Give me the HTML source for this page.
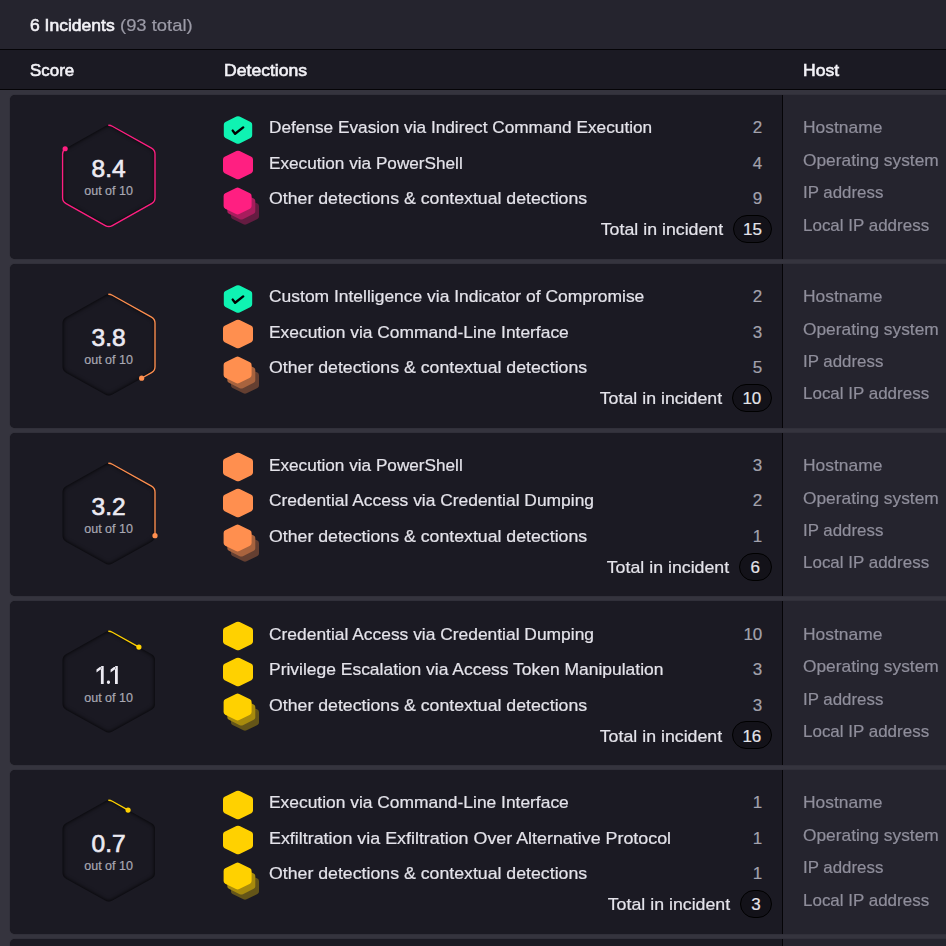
<!DOCTYPE html>
<html><head><meta charset="utf-8"><style>
html,body{margin:0;padding:0;}
body{width:946px;height:946px;overflow:hidden;position:relative;background:#35343e;font-family:"Liberation Sans", sans-serif;}
.t{position:absolute;white-space:nowrap;-webkit-text-stroke:0.2px currentColor;}
.b{-webkit-text-stroke:0.6px currentColor;}
.m{-webkit-text-stroke:0.65px currentColor;}
.card{position:absolute;left:10px;width:960px;background:#1b1a23;border-radius:5px;overflow:hidden;box-shadow:0 0 1px rgba(0,0,0,0.6);}
.host{position:absolute;left:772px;top:0;bottom:0;right:0;background:#25242e;border-left:1px solid #050407;}
.badge{position:absolute;height:26.0px;line-height:26.0px;border:1.3px solid #000;border-radius:14px;background:#131219;color:#e4e3ea;font-size:17px;text-align:center;}
svg{display:block}
</style></head><body>
<svg width="0" height="0" style="position:absolute"><defs><filter id="ins" color-interpolation-filters="sRGB" x="-20%" y="-20%" width="140%" height="140%"><feFlood flood-color="#000" flood-opacity="1"/><feComposite in2="SourceAlpha" operator="out"/><feGaussianBlur stdDeviation="2.2"/><feComposite in2="SourceAlpha" operator="in"/><feMerge><feMergeNode in="SourceGraphic"/><feMergeNode/></feMerge></filter></defs></svg>
<div style="position:absolute;left:0;top:0;width:946px;height:48.5px;background:#25242e"></div>
<div style="position:absolute;left:0;top:48.5px;width:946px;height:1.2px;background:#050407"></div>
<div style="position:absolute;left:0;top:49.7px;width:946px;height:39.3px;background:#1b1a23"></div>
<div style="position:absolute;left:0;top:89px;width:946px;height:1.2px;background:#050407"></div>
<div class="t b" style="left:30.00px;top:16.00px;font-size:17px;line-height:20px;color:#f3f2f7;transform:scaleX(1.0303);transform-origin:left center;">6 Incidents</div>
<div class="t" style="left:120.00px;top:16.00px;font-size:17px;line-height:20px;color:#9b9aa6;transform:scaleX(1.0833);transform-origin:left center;">(93 total)</div>
<div class="t b" style="left:30.00px;top:61.00px;font-size:17px;line-height:20px;color:#f3f2f7;transform:scaleX(0.9955);transform-origin:left center;">Score</div>
<div class="t b" style="left:224.00px;top:61.00px;font-size:17px;line-height:20px;color:#f3f2f7;transform:scaleX(1.0352);transform-origin:left center;">Detections</div>
<div class="t b" style="left:803.00px;top:61.00px;font-size:17px;line-height:20px;color:#f3f2f7;transform:scaleX(1.0311);transform-origin:left center;">Host</div>
<div class="card" style="top:95.00px;height:163.75px"><div class="host"></div></div>
<div style="position:absolute;left:50px;top:95.00px"><svg class="sh" width="120" height="164" viewBox="0 0 120 164">
<path d="M58.80 30.28 Q60.55 30.28 62.29 31.25 L101.51 53.15 Q105.00 55.10 105.00 59.10 L105.00 102.70 Q105.00 106.70 101.51 108.65 L62.29 130.55 Q58.80 132.50 55.31 130.55 L16.09 108.65 Q12.60 106.70 12.60 102.70 L12.60 59.10 Q12.60 55.10 16.09 53.15 L55.31 31.25 Q57.05 30.28 58.80 30.28 Z" fill="#1a1922" filter="url(#ins)"/>
<path d="M58.80 30.28 Q60.55 30.28 62.29 31.25 L101.51 53.15 Q105.00 55.10 105.00 59.10 L105.00 102.70 Q105.00 106.70 101.51 108.65 L62.29 130.55 Q58.80 132.50 55.31 130.55 L16.09 108.65 Q12.60 106.70 12.60 102.70 L12.60 59.10 Q12.60 55.10 16.09 53.15 L55.31 31.25 Q57.05 30.28 58.80 30.28 Z" fill="none" stroke="#ff1f81" stroke-width="1.35" stroke-dasharray="260.93 1000" stroke-linecap="round"/>
<circle cx="15.15" cy="53.76" r="2.6" fill="#ff1f81"/>
</svg></div>
<div class="t m" style="left:8.60px;width:200px;text-align:center;top:154.00px;font-size:24.5px;line-height:30px;color:#eceaf2;">8.4</div>
<div class="t" style="left:8.60px;width:200px;text-align:center;top:184.00px;font-size:12.5px;line-height:14px;color:#a9a8b3;">out of 10</div>
<div style="position:absolute;left:218px;top:109.90px"><svg width="40" height="40" viewBox="0 0 40 40"><path d="M20.00 6.20 Q20.80 6.20 21.61 6.60 L32.59 12.10 Q34.20 12.90 34.20 14.70 L34.20 25.30 Q34.20 27.10 32.59 27.90 L21.61 33.40 Q20.00 34.20 18.39 33.40 L7.41 27.90 Q5.80 27.10 5.80 25.30 L5.80 14.70 Q5.80 12.90 7.41 12.10 L18.39 6.60 Q19.20 6.20 20.00 6.20 Z" fill="#0ff3b2"/><path d="M14.7 20.6 L17.1 23.8 L25.2 17.4" fill="none" stroke="#000" stroke-width="2.4" stroke-linecap="round" stroke-linejoin="round"/></svg></div>
<div class="t" style="left:269.00px;top:118.00px;font-size:17px;line-height:20px;color:#e4e3ea;transform:scaleX(1.0138);transform-origin:left center;">Defense Evasion via Indirect Command Execution</div>
<div class="t" style="right:183.70px;top:118.00px;font-size:17px;line-height:20px;color:#a3a2ad;">2</div>
<div style="position:absolute;left:218px;top:145.40px"><svg width="40" height="40" viewBox="0 0 40 40"><path d="M20.00 5.70 Q20.81 5.70 21.62 6.09 L33.38 11.86 Q35.00 12.65 35.00 14.45 L35.00 25.55 Q35.00 27.35 33.38 28.14 L21.62 33.91 Q20.00 34.70 18.38 33.91 L6.62 28.14 Q5.00 27.35 5.00 25.55 L5.00 14.45 Q5.00 12.65 6.62 11.86 L18.38 6.09 Q19.19 5.70 20.00 5.70 Z" fill="#ff1f81"/></svg></div>
<div class="t" style="left:269.00px;top:154.00px;font-size:17px;line-height:20px;color:#e4e3ea;transform:scaleX(1.0100);transform-origin:left center;">Execution via PowerShell</div>
<div class="t" style="right:183.70px;top:154.00px;font-size:17px;line-height:20px;color:#a3a2ad;">4</div>
<div style="position:absolute;left:218px;top:180.90px"><svg width="40" height="40" viewBox="0 0 40 40" style="overflow:visible"><path d="M27.00 16.85 Q27.81 16.85 28.61 17.25 L39.39 22.58 Q41.00 23.38 41.00 25.18 L41.00 35.43 Q41.00 37.23 39.39 38.02 L28.61 43.35 Q27.00 44.15 25.39 43.35 L14.61 38.02 Q13.00 37.23 13.00 35.43 L13.00 25.18 Q13.00 23.38 14.61 22.58 L25.39 17.25 Q26.19 16.85 27.00 16.85 Z" fill="#641c41"/><path d="M23.30 11.70 Q24.11 11.70 24.91 12.10 L35.69 17.43 Q37.30 18.22 37.30 20.02 L37.30 30.27 Q37.30 32.07 35.69 32.87 L24.91 38.20 Q23.30 39.00 21.69 38.20 L10.91 32.87 Q9.30 32.07 9.30 30.27 L9.30 20.02 Q9.30 18.22 10.91 17.43 L21.69 12.10 Q22.49 11.70 23.30 11.70 Z" fill="#a81d5d"/><path d="M19.60 6.55 Q20.41 6.55 21.21 6.95 L31.99 12.28 Q33.60 13.07 33.60 14.88 L33.60 25.12 Q33.60 26.93 31.99 27.72 L21.21 33.05 Q19.60 33.85 17.99 33.05 L7.21 27.72 Q5.60 26.93 5.60 25.12 L5.60 14.88 Q5.60 13.07 7.21 12.28 L17.99 6.95 Q18.79 6.55 19.60 6.55 Z" fill="#ff1f81"/></svg></div>
<div class="t" style="left:269.00px;top:189.00px;font-size:17px;line-height:20px;color:#e4e3ea;transform:scaleX(1.0423);transform-origin:left center;">Other detections &amp; contextual detections</div>
<div class="t" style="right:183.70px;top:189.00px;font-size:17px;line-height:20px;color:#a3a2ad;">9</div>
<div class="badge" style="top:215.00px;left:733.4px;width:36.30px"></div>
<div class="t" style="left:652.55px;width:200px;text-align:center;top:220.00px;font-size:17px;line-height:20px;color:#e4e3ea;">15</div>
<div class="t" style="right:222.60px;top:220.00px;font-size:17px;line-height:20px;color:#e4e3ea;transform:scaleX(1.0450);transform-origin:right center;">Total in incident</div>
<div class="t" style="left:803.00px;top:118.00px;font-size:17px;line-height:20px;color:#8f8e9b;transform:scaleX(1.0237);transform-origin:left center;">Hostname</div>
<div class="t" style="left:803.00px;top:151.00px;font-size:17px;line-height:20px;color:#8f8e9b;transform:scaleX(1.0188);transform-origin:left center;">Operating system</div>
<div class="t" style="left:803.00px;top:183.00px;font-size:17px;line-height:20px;color:#8f8e9b;transform:scaleX(0.9925);transform-origin:left center;">IP address</div>
<div class="t" style="left:803.00px;top:216.00px;font-size:17px;line-height:20px;color:#8f8e9b;transform:scaleX(0.9984);transform-origin:left center;">Local IP address</div>
<div class="card" style="top:263.75px;height:163.75px"><div class="host"></div></div>
<div style="position:absolute;left:50px;top:263.75px"><svg class="sh" width="120" height="164" viewBox="0 0 120 164">
<path d="M58.80 30.28 Q60.55 30.28 62.29 31.25 L101.51 53.15 Q105.00 55.10 105.00 59.10 L105.00 102.70 Q105.00 106.70 101.51 108.65 L62.29 130.55 Q58.80 132.50 55.31 130.55 L16.09 108.65 Q12.60 106.70 12.60 102.70 L12.60 59.10 Q12.60 55.10 16.09 53.15 L55.31 31.25 Q57.05 30.28 58.80 30.28 Z" fill="#1a1922" filter="url(#ins)"/>
<path d="M58.80 30.28 Q60.55 30.28 62.29 31.25 L101.51 53.15 Q105.00 55.10 105.00 59.10 L105.00 102.70 Q105.00 106.70 101.51 108.65 L62.29 130.55 Q58.80 132.50 55.31 130.55 L16.09 108.65 Q12.60 106.70 12.60 102.70 L12.60 59.10 Q12.60 55.10 16.09 53.15 L55.31 31.25 Q57.05 30.28 58.80 30.28 Z" fill="none" stroke="#ff8f4f" stroke-width="1.35" stroke-dasharray="118.04 1000" stroke-linecap="round"/>
<circle cx="91.64" cy="114.16" r="2.6" fill="#ff8f4f"/>
</svg></div>
<div class="t m" style="left:8.60px;width:200px;text-align:center;top:323.00px;font-size:24.5px;line-height:30px;color:#eceaf2;">3.8</div>
<div class="t" style="left:8.60px;width:200px;text-align:center;top:353.00px;font-size:12.5px;line-height:14px;color:#a9a8b3;">out of 10</div>
<div style="position:absolute;left:218px;top:278.65px"><svg width="40" height="40" viewBox="0 0 40 40"><path d="M20.00 6.20 Q20.80 6.20 21.61 6.60 L32.59 12.10 Q34.20 12.90 34.20 14.70 L34.20 25.30 Q34.20 27.10 32.59 27.90 L21.61 33.40 Q20.00 34.20 18.39 33.40 L7.41 27.90 Q5.80 27.10 5.80 25.30 L5.80 14.70 Q5.80 12.90 7.41 12.10 L18.39 6.60 Q19.20 6.20 20.00 6.20 Z" fill="#0ff3b2"/><path d="M14.7 20.6 L17.1 23.8 L25.2 17.4" fill="none" stroke="#000" stroke-width="2.4" stroke-linecap="round" stroke-linejoin="round"/></svg></div>
<div class="t" style="left:269.00px;top:287.00px;font-size:17px;line-height:20px;color:#e4e3ea;transform:scaleX(1.0264);transform-origin:left center;">Custom Intelligence via Indicator of Compromise</div>
<div class="t" style="right:183.70px;top:287.00px;font-size:17px;line-height:20px;color:#a3a2ad;">2</div>
<div style="position:absolute;left:218px;top:314.15px"><svg width="40" height="40" viewBox="0 0 40 40"><path d="M20.00 5.70 Q20.81 5.70 21.62 6.09 L33.38 11.86 Q35.00 12.65 35.00 14.45 L35.00 25.55 Q35.00 27.35 33.38 28.14 L21.62 33.91 Q20.00 34.70 18.38 33.91 L6.62 28.14 Q5.00 27.35 5.00 25.55 L5.00 14.45 Q5.00 12.65 6.62 11.86 L18.38 6.09 Q19.19 5.70 20.00 5.70 Z" fill="#ff8f4f"/></svg></div>
<div class="t" style="left:269.00px;top:323.00px;font-size:17px;line-height:20px;color:#e4e3ea;transform:scaleX(1.0233);transform-origin:left center;">Execution via Command-Line Interface</div>
<div class="t" style="right:183.70px;top:323.00px;font-size:17px;line-height:20px;color:#a3a2ad;">3</div>
<div style="position:absolute;left:218px;top:349.65px"><svg width="40" height="40" viewBox="0 0 40 40" style="overflow:visible"><path d="M27.00 16.85 Q27.81 16.85 28.61 17.25 L39.39 22.58 Q41.00 23.38 41.00 25.18 L41.00 35.43 Q41.00 37.23 39.39 38.02 L28.61 43.35 Q27.00 44.15 25.39 43.35 L14.61 38.02 Q13.00 37.23 13.00 35.43 L13.00 25.18 Q13.00 23.38 14.61 22.58 L25.39 17.25 Q26.19 16.85 27.00 16.85 Z" fill="#643f31"/><path d="M23.30 11.70 Q24.11 11.70 24.91 12.10 L35.69 17.43 Q37.30 18.22 37.30 20.02 L37.30 30.27 Q37.30 32.07 35.69 32.87 L24.91 38.20 Q23.30 39.00 21.69 38.20 L10.91 32.87 Q9.30 32.07 9.30 30.27 L9.30 20.02 Q9.30 18.22 10.91 17.43 L21.69 12.10 Q22.49 11.70 23.30 11.70 Z" fill="#a8633e"/><path d="M19.60 6.55 Q20.41 6.55 21.21 6.95 L31.99 12.28 Q33.60 13.07 33.60 14.88 L33.60 25.12 Q33.60 26.93 31.99 27.72 L21.21 33.05 Q19.60 33.85 17.99 33.05 L7.21 27.72 Q5.60 26.93 5.60 25.12 L5.60 14.88 Q5.60 13.07 7.21 12.28 L17.99 6.95 Q18.79 6.55 19.60 6.55 Z" fill="#ff8f4f"/></svg></div>
<div class="t" style="left:269.00px;top:358.00px;font-size:17px;line-height:20px;color:#e4e3ea;transform:scaleX(1.0423);transform-origin:left center;">Other detections &amp; contextual detections</div>
<div class="t" style="right:183.70px;top:358.00px;font-size:17px;line-height:20px;color:#a3a2ad;">5</div>
<div class="badge" style="top:383.75px;left:732.0px;width:37.70px"></div>
<div class="t" style="left:651.85px;width:200px;text-align:center;top:389.00px;font-size:17px;line-height:20px;color:#e4e3ea;">10</div>
<div class="t" style="right:224.00px;top:389.00px;font-size:17px;line-height:20px;color:#e4e3ea;transform:scaleX(1.0450);transform-origin:right center;">Total in incident</div>
<div class="t" style="left:803.00px;top:287.00px;font-size:17px;line-height:20px;color:#8f8e9b;transform:scaleX(1.0237);transform-origin:left center;">Hostname</div>
<div class="t" style="left:803.00px;top:320.00px;font-size:17px;line-height:20px;color:#8f8e9b;transform:scaleX(1.0188);transform-origin:left center;">Operating system</div>
<div class="t" style="left:803.00px;top:352.00px;font-size:17px;line-height:20px;color:#8f8e9b;transform:scaleX(0.9925);transform-origin:left center;">IP address</div>
<div class="t" style="left:803.00px;top:384.00px;font-size:17px;line-height:20px;color:#8f8e9b;transform:scaleX(0.9984);transform-origin:left center;">Local IP address</div>
<div class="card" style="top:432.50px;height:163.75px"><div class="host"></div></div>
<div style="position:absolute;left:50px;top:432.50px"><svg class="sh" width="120" height="164" viewBox="0 0 120 164">
<path d="M58.80 30.28 Q60.55 30.28 62.29 31.25 L101.51 53.15 Q105.00 55.10 105.00 59.10 L105.00 102.70 Q105.00 106.70 101.51 108.65 L62.29 130.55 Q58.80 132.50 55.31 130.55 L16.09 108.65 Q12.60 106.70 12.60 102.70 L12.60 59.10 Q12.60 55.10 16.09 53.15 L55.31 31.25 Q57.05 30.28 58.80 30.28 Z" fill="#1a1922" filter="url(#ins)"/>
<path d="M58.80 30.28 Q60.55 30.28 62.29 31.25 L101.51 53.15 Q105.00 55.10 105.00 59.10 L105.00 102.70 Q105.00 106.70 101.51 108.65 L62.29 130.55 Q58.80 132.50 55.31 130.55 L16.09 108.65 Q12.60 106.70 12.60 102.70 L12.60 59.10 Q12.60 55.10 16.09 53.15 L55.31 31.25 Q57.05 30.28 58.80 30.28 Z" fill="none" stroke="#ff8f4f" stroke-width="1.35" stroke-dasharray="99.40 1000" stroke-linecap="round"/>
<circle cx="105.00" cy="102.64" r="2.6" fill="#ff8f4f"/>
</svg></div>
<div class="t m" style="left:8.60px;width:200px;text-align:center;top:492.00px;font-size:24.5px;line-height:30px;color:#eceaf2;">3.2</div>
<div class="t" style="left:8.60px;width:200px;text-align:center;top:522.00px;font-size:12.5px;line-height:14px;color:#a9a8b3;">out of 10</div>
<div style="position:absolute;left:218px;top:447.40px"><svg width="40" height="40" viewBox="0 0 40 40"><path d="M20.00 5.70 Q20.81 5.70 21.62 6.09 L33.38 11.86 Q35.00 12.65 35.00 14.45 L35.00 25.55 Q35.00 27.35 33.38 28.14 L21.62 33.91 Q20.00 34.70 18.38 33.91 L6.62 28.14 Q5.00 27.35 5.00 25.55 L5.00 14.45 Q5.00 12.65 6.62 11.86 L18.38 6.09 Q19.19 5.70 20.00 5.70 Z" fill="#ff8f4f"/></svg></div>
<div class="t" style="left:269.00px;top:456.00px;font-size:17px;line-height:20px;color:#e4e3ea;transform:scaleX(1.0100);transform-origin:left center;">Execution via PowerShell</div>
<div class="t" style="right:183.70px;top:456.00px;font-size:17px;line-height:20px;color:#a3a2ad;">3</div>
<div style="position:absolute;left:218px;top:482.90px"><svg width="40" height="40" viewBox="0 0 40 40"><path d="M20.00 5.70 Q20.81 5.70 21.62 6.09 L33.38 11.86 Q35.00 12.65 35.00 14.45 L35.00 25.55 Q35.00 27.35 33.38 28.14 L21.62 33.91 Q20.00 34.70 18.38 33.91 L6.62 28.14 Q5.00 27.35 5.00 25.55 L5.00 14.45 Q5.00 12.65 6.62 11.86 L18.38 6.09 Q19.19 5.70 20.00 5.70 Z" fill="#ff8f4f"/></svg></div>
<div class="t" style="left:269.00px;top:491.00px;font-size:17px;line-height:20px;color:#e4e3ea;transform:scaleX(1.0237);transform-origin:left center;">Credential Access via Credential Dumping</div>
<div class="t" style="right:183.70px;top:491.00px;font-size:17px;line-height:20px;color:#a3a2ad;">2</div>
<div style="position:absolute;left:218px;top:518.40px"><svg width="40" height="40" viewBox="0 0 40 40" style="overflow:visible"><path d="M27.00 16.85 Q27.81 16.85 28.61 17.25 L39.39 22.58 Q41.00 23.38 41.00 25.18 L41.00 35.43 Q41.00 37.23 39.39 38.02 L28.61 43.35 Q27.00 44.15 25.39 43.35 L14.61 38.02 Q13.00 37.23 13.00 35.43 L13.00 25.18 Q13.00 23.38 14.61 22.58 L25.39 17.25 Q26.19 16.85 27.00 16.85 Z" fill="#643f31"/><path d="M23.30 11.70 Q24.11 11.70 24.91 12.10 L35.69 17.43 Q37.30 18.22 37.30 20.02 L37.30 30.27 Q37.30 32.07 35.69 32.87 L24.91 38.20 Q23.30 39.00 21.69 38.20 L10.91 32.87 Q9.30 32.07 9.30 30.27 L9.30 20.02 Q9.30 18.22 10.91 17.43 L21.69 12.10 Q22.49 11.70 23.30 11.70 Z" fill="#a8633e"/><path d="M19.60 6.55 Q20.41 6.55 21.21 6.95 L31.99 12.28 Q33.60 13.07 33.60 14.88 L33.60 25.12 Q33.60 26.93 31.99 27.72 L21.21 33.05 Q19.60 33.85 17.99 33.05 L7.21 27.72 Q5.60 26.93 5.60 25.12 L5.60 14.88 Q5.60 13.07 7.21 12.28 L17.99 6.95 Q18.79 6.55 19.60 6.55 Z" fill="#ff8f4f"/></svg></div>
<div class="t" style="left:269.00px;top:527.00px;font-size:17px;line-height:20px;color:#e4e3ea;transform:scaleX(1.0423);transform-origin:left center;">Other detections &amp; contextual detections</div>
<div class="t" style="right:183.70px;top:527.00px;font-size:17px;line-height:20px;color:#a3a2ad;">1</div>
<div class="badge" style="top:552.50px;left:739.0px;width:30.70px"></div>
<div class="t" style="left:655.35px;width:200px;text-align:center;top:558.00px;font-size:17px;line-height:20px;color:#e4e3ea;">6</div>
<div class="t" style="right:217.00px;top:558.00px;font-size:17px;line-height:20px;color:#e4e3ea;transform:scaleX(1.0450);transform-origin:right center;">Total in incident</div>
<div class="t" style="left:803.00px;top:456.00px;font-size:17px;line-height:20px;color:#8f8e9b;transform:scaleX(1.0237);transform-origin:left center;">Hostname</div>
<div class="t" style="left:803.00px;top:489.00px;font-size:17px;line-height:20px;color:#8f8e9b;transform:scaleX(1.0188);transform-origin:left center;">Operating system</div>
<div class="t" style="left:803.00px;top:521.00px;font-size:17px;line-height:20px;color:#8f8e9b;transform:scaleX(0.9925);transform-origin:left center;">IP address</div>
<div class="t" style="left:803.00px;top:553.00px;font-size:17px;line-height:20px;color:#8f8e9b;transform:scaleX(0.9984);transform-origin:left center;">Local IP address</div>
<div class="card" style="top:601.25px;height:163.75px"><div class="host"></div></div>
<div style="position:absolute;left:50px;top:601.25px"><svg class="sh" width="120" height="164" viewBox="0 0 120 164">
<path d="M58.80 30.28 Q60.55 30.28 62.29 31.25 L101.51 53.15 Q105.00 55.10 105.00 59.10 L105.00 102.70 Q105.00 106.70 101.51 108.65 L62.29 130.55 Q58.80 132.50 55.31 130.55 L16.09 108.65 Q12.60 106.70 12.60 102.70 L12.60 59.10 Q12.60 55.10 16.09 53.15 L55.31 31.25 Q57.05 30.28 58.80 30.28 Z" fill="#1a1922" filter="url(#ins)"/>
<path d="M58.80 30.28 Q60.55 30.28 62.29 31.25 L101.51 53.15 Q105.00 55.10 105.00 59.10 L105.00 102.70 Q105.00 106.70 101.51 108.65 L62.29 130.55 Q58.80 132.50 55.31 130.55 L16.09 108.65 Q12.60 106.70 12.60 102.70 L12.60 59.10 Q12.60 55.10 16.09 53.15 L55.31 31.25 Q57.05 30.28 58.80 30.28 Z" fill="none" stroke="#ffd100" stroke-width="1.35" stroke-dasharray="34.17 1000" stroke-linecap="round"/>
<circle cx="88.92" cy="46.12" r="2.6" fill="#ffd100"/>
</svg></div>
<svg style="position:absolute;left:0;top:0" width="200" height="946" viewBox="0 0 200 946"><path d="M100.90 666 h2.8 v18 h-2.8 z M101.10 666 l-4.6 3.4 l0 3.0 l4.8 -3.5 z" fill="#eceaf2"/><rect x="106.9" y="680.6" width="3.1" height="3.4" rx="1.4" fill="#eceaf2"/><path d="M115.00 666 h2.8 v18 h-2.8 z M115.20 666 l-4.6 3.4 l0 3.0 l4.8 -3.5 z" fill="#eceaf2"/></svg>
<div class="t" style="left:8.60px;width:200px;text-align:center;top:691.00px;font-size:12.5px;line-height:14px;color:#a9a8b3;">out of 10</div>
<div style="position:absolute;left:218px;top:616.15px"><svg width="40" height="40" viewBox="0 0 40 40"><path d="M20.00 5.70 Q20.81 5.70 21.62 6.09 L33.38 11.86 Q35.00 12.65 35.00 14.45 L35.00 25.55 Q35.00 27.35 33.38 28.14 L21.62 33.91 Q20.00 34.70 18.38 33.91 L6.62 28.14 Q5.00 27.35 5.00 25.55 L5.00 14.45 Q5.00 12.65 6.62 11.86 L18.38 6.09 Q19.19 5.70 20.00 5.70 Z" fill="#ffd100"/></svg></div>
<div class="t" style="left:269.00px;top:625.00px;font-size:17px;line-height:20px;color:#e4e3ea;transform:scaleX(1.0237);transform-origin:left center;">Credential Access via Credential Dumping</div>
<div class="t" style="right:183.70px;top:625.00px;font-size:17px;line-height:20px;color:#a3a2ad;">10</div>
<div style="position:absolute;left:218px;top:651.65px"><svg width="40" height="40" viewBox="0 0 40 40"><path d="M20.00 5.70 Q20.81 5.70 21.62 6.09 L33.38 11.86 Q35.00 12.65 35.00 14.45 L35.00 25.55 Q35.00 27.35 33.38 28.14 L21.62 33.91 Q20.00 34.70 18.38 33.91 L6.62 28.14 Q5.00 27.35 5.00 25.55 L5.00 14.45 Q5.00 12.65 6.62 11.86 L18.38 6.09 Q19.19 5.70 20.00 5.70 Z" fill="#ffd100"/></svg></div>
<div class="t" style="left:269.00px;top:660.00px;font-size:17px;line-height:20px;color:#e4e3ea;transform:scaleX(1.0264);transform-origin:left center;">Privilege Escalation via Access Token Manipulation</div>
<div class="t" style="right:183.70px;top:660.00px;font-size:17px;line-height:20px;color:#a3a2ad;">3</div>
<div style="position:absolute;left:218px;top:687.15px"><svg width="40" height="40" viewBox="0 0 40 40" style="overflow:visible"><path d="M27.00 16.85 Q27.81 16.85 28.61 17.25 L39.39 22.58 Q41.00 23.38 41.00 25.18 L41.00 35.43 Q41.00 37.23 39.39 38.02 L28.61 43.35 Q27.00 44.15 25.39 43.35 L14.61 38.02 Q13.00 37.23 13.00 35.43 L13.00 25.18 Q13.00 23.38 14.61 22.58 L25.39 17.25 Q26.19 16.85 27.00 16.85 Z" fill="#645518"/><path d="M23.30 11.70 Q24.11 11.70 24.91 12.10 L35.69 17.43 Q37.30 18.22 37.30 20.02 L37.30 30.27 Q37.30 32.07 35.69 32.87 L24.91 38.20 Q23.30 39.00 21.69 38.20 L10.91 32.87 Q9.30 32.07 9.30 30.27 L9.30 20.02 Q9.30 18.22 10.91 17.43 L21.69 12.10 Q22.49 11.70 23.30 11.70 Z" fill="#a88b0d"/><path d="M19.60 6.55 Q20.41 6.55 21.21 6.95 L31.99 12.28 Q33.60 13.07 33.60 14.88 L33.60 25.12 Q33.60 26.93 31.99 27.72 L21.21 33.05 Q19.60 33.85 17.99 33.05 L7.21 27.72 Q5.60 26.93 5.60 25.12 L5.60 14.88 Q5.60 13.07 7.21 12.28 L17.99 6.95 Q18.79 6.55 19.60 6.55 Z" fill="#ffd100"/></svg></div>
<div class="t" style="left:269.00px;top:696.00px;font-size:17px;line-height:20px;color:#e4e3ea;transform:scaleX(1.0423);transform-origin:left center;">Other detections &amp; contextual detections</div>
<div class="t" style="right:183.70px;top:696.00px;font-size:17px;line-height:20px;color:#a3a2ad;">3</div>
<div class="badge" style="top:721.25px;left:732.0px;width:37.70px"></div>
<div class="t" style="left:651.85px;width:200px;text-align:center;top:727.00px;font-size:17px;line-height:20px;color:#e4e3ea;">16</div>
<div class="t" style="right:224.00px;top:727.00px;font-size:17px;line-height:20px;color:#e4e3ea;transform:scaleX(1.0450);transform-origin:right center;">Total in incident</div>
<div class="t" style="left:803.00px;top:625.00px;font-size:17px;line-height:20px;color:#8f8e9b;transform:scaleX(1.0237);transform-origin:left center;">Hostname</div>
<div class="t" style="left:803.00px;top:657.00px;font-size:17px;line-height:20px;color:#8f8e9b;transform:scaleX(1.0188);transform-origin:left center;">Operating system</div>
<div class="t" style="left:803.00px;top:690.00px;font-size:17px;line-height:20px;color:#8f8e9b;transform:scaleX(0.9925);transform-origin:left center;">IP address</div>
<div class="t" style="left:803.00px;top:722.00px;font-size:17px;line-height:20px;color:#8f8e9b;transform:scaleX(0.9984);transform-origin:left center;">Local IP address</div>
<div class="card" style="top:770.00px;height:163.75px"><div class="host"></div></div>
<div style="position:absolute;left:50px;top:770.00px"><svg class="sh" width="120" height="164" viewBox="0 0 120 164">
<path d="M58.80 30.28 Q60.55 30.28 62.29 31.25 L101.51 53.15 Q105.00 55.10 105.00 59.10 L105.00 102.70 Q105.00 106.70 101.51 108.65 L62.29 130.55 Q58.80 132.50 55.31 130.55 L16.09 108.65 Q12.60 106.70 12.60 102.70 L12.60 59.10 Q12.60 55.10 16.09 53.15 L55.31 31.25 Q57.05 30.28 58.80 30.28 Z" fill="#1a1922" filter="url(#ins)"/>
<path d="M58.80 30.28 Q60.55 30.28 62.29 31.25 L101.51 53.15 Q105.00 55.10 105.00 59.10 L105.00 102.70 Q105.00 106.70 101.51 108.65 L62.29 130.55 Q58.80 132.50 55.31 130.55 L16.09 108.65 Q12.60 106.70 12.60 102.70 L12.60 59.10 Q12.60 55.10 16.09 53.15 L55.31 31.25 Q57.05 30.28 58.80 30.28 Z" fill="none" stroke="#ffd100" stroke-width="1.35" stroke-dasharray="21.74 1000" stroke-linecap="round"/>
<circle cx="78.08" cy="40.06" r="2.6" fill="#ffd100"/>
</svg></div>
<div class="t m" style="left:8.60px;width:200px;text-align:center;top:829.00px;font-size:24.5px;line-height:30px;color:#eceaf2;">0.7</div>
<div class="t" style="left:8.60px;width:200px;text-align:center;top:859.00px;font-size:12.5px;line-height:14px;color:#a9a8b3;">out of 10</div>
<div style="position:absolute;left:218px;top:784.90px"><svg width="40" height="40" viewBox="0 0 40 40"><path d="M20.00 5.70 Q20.81 5.70 21.62 6.09 L33.38 11.86 Q35.00 12.65 35.00 14.45 L35.00 25.55 Q35.00 27.35 33.38 28.14 L21.62 33.91 Q20.00 34.70 18.38 33.91 L6.62 28.14 Q5.00 27.35 5.00 25.55 L5.00 14.45 Q5.00 12.65 6.62 11.86 L18.38 6.09 Q19.19 5.70 20.00 5.70 Z" fill="#ffd100"/></svg></div>
<div class="t" style="left:269.00px;top:793.00px;font-size:17px;line-height:20px;color:#e4e3ea;transform:scaleX(1.0233);transform-origin:left center;">Execution via Command-Line Interface</div>
<div class="t" style="right:183.70px;top:793.00px;font-size:17px;line-height:20px;color:#a3a2ad;">1</div>
<div style="position:absolute;left:218px;top:820.40px"><svg width="40" height="40" viewBox="0 0 40 40"><path d="M20.00 5.70 Q20.81 5.70 21.62 6.09 L33.38 11.86 Q35.00 12.65 35.00 14.45 L35.00 25.55 Q35.00 27.35 33.38 28.14 L21.62 33.91 Q20.00 34.70 18.38 33.91 L6.62 28.14 Q5.00 27.35 5.00 25.55 L5.00 14.45 Q5.00 12.65 6.62 11.86 L18.38 6.09 Q19.19 5.70 20.00 5.70 Z" fill="#ffd100"/></svg></div>
<div class="t" style="left:269.00px;top:829.00px;font-size:17px;line-height:20px;color:#e4e3ea;transform:scaleX(1.0507);transform-origin:left center;">Exfiltration via Exfiltration Over Alternative Protocol</div>
<div class="t" style="right:183.70px;top:829.00px;font-size:17px;line-height:20px;color:#a3a2ad;">1</div>
<div style="position:absolute;left:218px;top:855.90px"><svg width="40" height="40" viewBox="0 0 40 40" style="overflow:visible"><path d="M27.00 16.85 Q27.81 16.85 28.61 17.25 L39.39 22.58 Q41.00 23.38 41.00 25.18 L41.00 35.43 Q41.00 37.23 39.39 38.02 L28.61 43.35 Q27.00 44.15 25.39 43.35 L14.61 38.02 Q13.00 37.23 13.00 35.43 L13.00 25.18 Q13.00 23.38 14.61 22.58 L25.39 17.25 Q26.19 16.85 27.00 16.85 Z" fill="#645518"/><path d="M23.30 11.70 Q24.11 11.70 24.91 12.10 L35.69 17.43 Q37.30 18.22 37.30 20.02 L37.30 30.27 Q37.30 32.07 35.69 32.87 L24.91 38.20 Q23.30 39.00 21.69 38.20 L10.91 32.87 Q9.30 32.07 9.30 30.27 L9.30 20.02 Q9.30 18.22 10.91 17.43 L21.69 12.10 Q22.49 11.70 23.30 11.70 Z" fill="#a88b0d"/><path d="M19.60 6.55 Q20.41 6.55 21.21 6.95 L31.99 12.28 Q33.60 13.07 33.60 14.88 L33.60 25.12 Q33.60 26.93 31.99 27.72 L21.21 33.05 Q19.60 33.85 17.99 33.05 L7.21 27.72 Q5.60 26.93 5.60 25.12 L5.60 14.88 Q5.60 13.07 7.21 12.28 L17.99 6.95 Q18.79 6.55 19.60 6.55 Z" fill="#ffd100"/></svg></div>
<div class="t" style="left:269.00px;top:864.00px;font-size:17px;line-height:20px;color:#e4e3ea;transform:scaleX(1.0423);transform-origin:left center;">Other detections &amp; contextual detections</div>
<div class="t" style="right:183.70px;top:864.00px;font-size:17px;line-height:20px;color:#a3a2ad;">1</div>
<div class="badge" style="top:890.00px;left:740.1px;width:29.60px"></div>
<div class="t" style="left:655.90px;width:200px;text-align:center;top:895.00px;font-size:17px;line-height:20px;color:#e4e3ea;">3</div>
<div class="t" style="right:215.90px;top:895.00px;font-size:17px;line-height:20px;color:#e4e3ea;transform:scaleX(1.0450);transform-origin:right center;">Total in incident</div>
<div class="t" style="left:803.00px;top:793.00px;font-size:17px;line-height:20px;color:#8f8e9b;transform:scaleX(1.0237);transform-origin:left center;">Hostname</div>
<div class="t" style="left:803.00px;top:826.00px;font-size:17px;line-height:20px;color:#8f8e9b;transform:scaleX(1.0188);transform-origin:left center;">Operating system</div>
<div class="t" style="left:803.00px;top:858.00px;font-size:17px;line-height:20px;color:#8f8e9b;transform:scaleX(0.9925);transform-origin:left center;">IP address</div>
<div class="t" style="left:803.00px;top:891.00px;font-size:17px;line-height:20px;color:#8f8e9b;transform:scaleX(0.9984);transform-origin:left center;">Local IP address</div>
<div class="card" style="top:938.75px;height:163.75px"><div class="host"></div></div>
</body></html>
